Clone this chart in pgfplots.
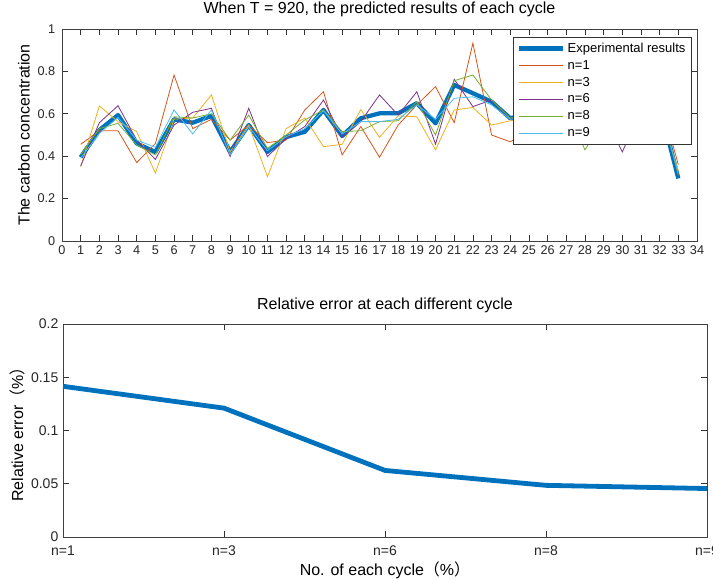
\documentclass[border=0pt]{standalone}
\usepackage{pgfplots}
\pgfplotsset{compat=1.18}
\usepackage{fontspec}
\setmainfont{Liberation Sans}
\newfontfamily\cjk{Noto Sans CJK SC}
\definecolor{mBlue}{rgb}{0,0.447,0.741}
\definecolor{mOrange}{rgb}{0.85,0.325,0.098}
\definecolor{mYellow}{rgb}{0.929,0.694,0.125}
\definecolor{mPurple}{rgb}{0.494,0.184,0.556}
\definecolor{mGreen}{rgb}{0.466,0.674,0.188}
\definecolor{mCyan}{rgb}{0.301,0.745,0.933}

\pgfplotstableread{
x exp n1 n3 n6 n8 n9
1 0.395 0.456 0.350 0.354 0.406 0.390
2 0.523 0.520 0.637 0.558 0.530 0.508
3 0.594 0.520 0.563 0.638 0.555 0.583
4 0.460 0.370 0.516 0.476 0.453 0.476
5 0.420 0.460 0.320 0.385 0.406 0.442
6 0.574 0.783 0.575 0.547 0.586 0.618
7 0.558 0.530 0.580 0.607 0.580 0.505
8 0.590 0.574 0.689 0.626 0.600 0.618
9 0.420 0.476 0.420 0.398 0.476 0.406
10 0.547 0.547 0.547 0.626 0.594 0.540
11 0.420 0.464 0.303 0.398 0.437 0.426
12 0.490 0.476 0.530 0.484 0.500 0.492
13 0.515 0.618 0.580 0.540 0.571 0.530
14 0.618 0.704 0.445 0.665 0.618 0.615
15 0.495 0.406 0.456 0.489 0.516 0.505
16 0.579 0.540 0.620 0.563 0.520 0.563
17 0.602 0.395 0.489 0.689 0.563 0.563
18 0.602 0.547 0.590 0.594 0.567 0.574
19 0.650 0.642 0.586 0.704 0.657 0.642
20 0.555 0.728 0.430 0.457 0.500 0.574
21 0.736 0.558 0.618 0.763 0.756 0.673
22 0.697 0.933 0.630 0.634 0.783 0.680
23 0.657 0.500 0.547 0.665 0.665 0.642
24 0.579 0.468 0.567 0.574 0.579 0.574
25 0.600 0.520 0.580 0.620 0.600 0.590
26 0.550 0.630 0.520 0.570 0.550 0.560
27 0.620 0.580 0.660 0.600 0.630 0.610
28 0.470 0.500 0.480 0.490 0.430 0.470
29 0.580 0.660 0.550 0.600 0.570 0.580
30 0.520 0.550 0.580 0.420 0.530 0.510
31 0.600 0.580 0.630 0.620 0.610 0.600
32 0.640 0.680 0.620 0.660 0.650 0.640
33 0.295 0.360 0.330 0.310 0.310 0.320
}\cycledata

\pgfplotstableread{
x err
0 0.1415
1 0.1210
2 0.0625
3 0.0485
4 0.0455
}\errdata

\begin{document}
\begin{tikzpicture}[x=1pt,y=1pt]
\begin{axis}[
  at={(46.5pt,254.25pt)}, anchor=south west,
  scale only axis, width=476.25pt, height=159pt,
  xmin=0, xmax=34, ymin=0, ymax=1,
  xtick={0,...,34}, ytick={0,0.2,0.4,0.6,0.8,1},
  yticklabels={0,0.2,0.4,0.6,0.8,1},
  /pgf/number format/assume math mode=true,
  tick align=inside, major tick length=4.5pt,
  axis line style={black!75, line width=0.6pt},
  tick style={black!80, line width=0.5pt},
  tick label style={font=\fontsize{9.5}{11}\selectfont, text=black!85},
  yticklabel style={xshift=-1.5pt},
  title={When T = 920, the predicted results of each cycle},
  title style={font=\fontsize{12}{14}\selectfont, at={(axis description cs:0.5,1)}, anchor=base, yshift=5.25pt},
  ylabel={The carbon concentration},
  ylabel style={font=\fontsize{12}{14}\selectfont, at={(axis description cs:-0.0598,0.5)}, anchor=center},
  legend style={at={(0.992,0.962)}, anchor=north east, draw=black!80, line width=0.5pt,
    font=\fontsize{9.75}{11}\selectfont, row sep=0pt,
    nodes={inner sep=1.6pt, text height=7.5pt, text depth=2pt}},
  legend cell align=left,
  legend image code/.code={\draw[#1] (0pt,0pt) -- (33pt,0pt);},
]
\addplot[mBlue, line width=3.2pt, line join=round] table[x=x, y=exp] {\cycledata};
\addlegendentry{Experimental results}
\addplot[mOrange, line width=0.6pt] table[x=x, y=n1] {\cycledata};
\addlegendentry{n=1}
\addplot[mYellow, line width=0.6pt] table[x=x, y=n3] {\cycledata};
\addlegendentry{n=3}
\addplot[mPurple, line width=0.6pt] table[x=x, y=n6] {\cycledata};
\addlegendentry{n=6}
\addplot[mGreen, line width=0.6pt] table[x=x, y=n8] {\cycledata};
\addlegendentry{n=8}
\addplot[mCyan, line width=0.6pt] table[x=x, y=n9] {\cycledata};
\addlegendentry{n=9}
\end{axis}

\begin{axis}[
  at={(47.25pt,32.25pt)}, anchor=south west,
  scale only axis, width=483pt, height=159.75pt,
  xmin=0, xmax=4, ymin=0, ymax=0.2,
  xtick={0,...,4}, xticklabels={n=1,n=3,n=6,n=8,n=9},
  ytick={0,0.05,0.1,0.15,0.2}, yticklabels={0,0.05,0.1,0.15,0.2},
  tick align=inside, major tick length=4.5pt,
  axis line style={black!75, line width=0.6pt},
  tick style={black!80, line width=0.5pt},
  tick label style={font=\fontsize{10.5}{12}\selectfont, text=black!85},
  xticklabel style={yshift=-3pt},
  title={Relative error at each different cycle},
  title style={font=\fontsize{12}{14}\selectfont, at={(axis description cs:0.5,1)}, anchor=base, yshift=5pt},
  xlabel={No. of each cycle{\cjk（}\%{\cjk）}},
  xlabel style={font=\fontsize{12}{14}\selectfont, at={(axis description cs:0.5,0)}, anchor=base, yshift=-29.25pt},
  ylabel={Relative error{\cjk（}\%{\cjk）}},
  ylabel style={font=\fontsize{12}{14}\selectfont, at={(axis description cs:-0.0714,0.5)}, anchor=center},
]
\addplot[mBlue, line width=3.6pt, line join=round] table[x=x, y=err] {\errdata};
\end{axis}
\pgfresetboundingbox
\path[use as bounding box] (0pt,0pt) rectangle (534.75pt,435pt);
\end{tikzpicture}
\end{document}
